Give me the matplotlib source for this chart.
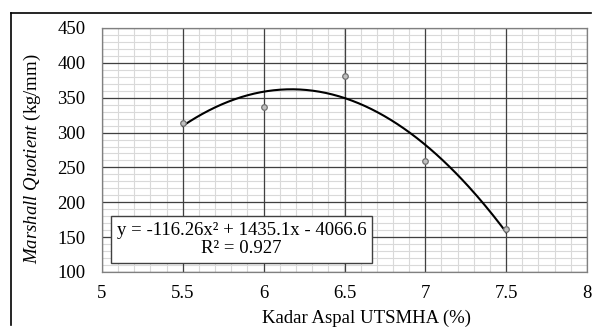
import matplotlib
matplotlib.use("Agg")
import matplotlib.pyplot as plt
import numpy as np
from matplotlib.lines import Line2D
from matplotlib.ticker import MultipleLocator

plt.rcParams["font.family"] = ["Liberation Serif", "DejaVu Serif"]
plt.rcParams["mathtext.fontset"] = "custom"
plt.rcParams["mathtext.rm"] = "Liberation Serif"
plt.rcParams["mathtext.it"] = "Liberation Serif:italic"

# data
kadar_aspal = [5.5, 6.0, 6.5, 7.0, 7.5]
marshall_quotient = [314, 337, 381, 259, 162]
trend_coef = [-116.26, 1435.1, -4066.6]
trend_label = "y = -116.26x\u00b2 + 1435.1x - 4066.6\nR\u00b2 = 0.927"

FS = 13.5

fig = plt.figure(figsize=(5.92, 3.27), dpi=100)
ax = fig.add_axes([102 / 592, 1 - 272 / 327, 485 / 592, 244 / 327])

ax.set_xlim(5, 8)
ax.set_ylim(100, 450)
ax.xaxis.set_major_locator(MultipleLocator(0.5))
ax.yaxis.set_major_locator(MultipleLocator(50))
ax.xaxis.set_major_formatter(plt.FuncFormatter(lambda v, p: f"{v:g}"))

# grid drawn by hand so major lines sit cleanly over minor ones
for xv in np.arange(5, 8.001, 0.1):
    ax.axvline(xv, color="#d9d9d9", linewidth=0.8, zorder=0.5)
for yv in np.arange(100, 450.1, 10):
    ax.axhline(yv, color="#d9d9d9", linewidth=0.8, zorder=0.5)
for xv in np.arange(5, 8.001, 0.5):
    ax.axvline(xv, color="#404040", linewidth=0.9, zorder=1)
for yv in np.arange(100, 450.1, 50):
    ax.axhline(yv, color="#404040", linewidth=0.9, zorder=1)

ax.tick_params(which="both", length=0, labelsize=FS)
ax.tick_params(axis="x", pad=9)
ax.tick_params(axis="y", pad=12)
for s in ax.spines.values():
    s.set_color("#808080")
    s.set_linewidth(0.9)

xs = np.linspace(min(kadar_aspal), max(kadar_aspal), 200)
ax.plot(xs, np.polyval(trend_coef, xs), color="black", linewidth=1.5, zorder=3)
ax.scatter(kadar_aspal, marshall_quotient, s=16, facecolor="#c0c0c0",
           edgecolor="#707070", linewidth=0.9, zorder=4)

ax.text(5.863, 147, trend_label, fontsize=FS, ha="center", va="center",
        multialignment="center", linespacing=1.1, zorder=5,
        bbox=dict(boxstyle="square,pad=0.32", facecolor="white",
                  edgecolor="#404040", linewidth=1.0))

fig.text(366 / 592, 1 - 318 / 327, "Kadar Aspal UTSMHA (%)", fontsize=FS,
         ha="center", va="center")
fig.text(32 / 592, 1 - 159 / 327, r"$\mathit{Marshall\ Quotient}$ (kg/mm)",
         fontsize=FS, ha="center", va="center", rotation=90)

# outer chart border (left and top)
fig.add_artist(Line2D([11 / 592, 11 / 592], [1 - 325 / 327, 1 - 13 / 327],
                      color="black", linewidth=1.2))
fig.add_artist(Line2D([11 / 592, 591 / 592], [1 - 13 / 327, 1 - 13 / 327],
                      color="black", linewidth=1.2))

fig.savefig("out.png", dpi=100)
